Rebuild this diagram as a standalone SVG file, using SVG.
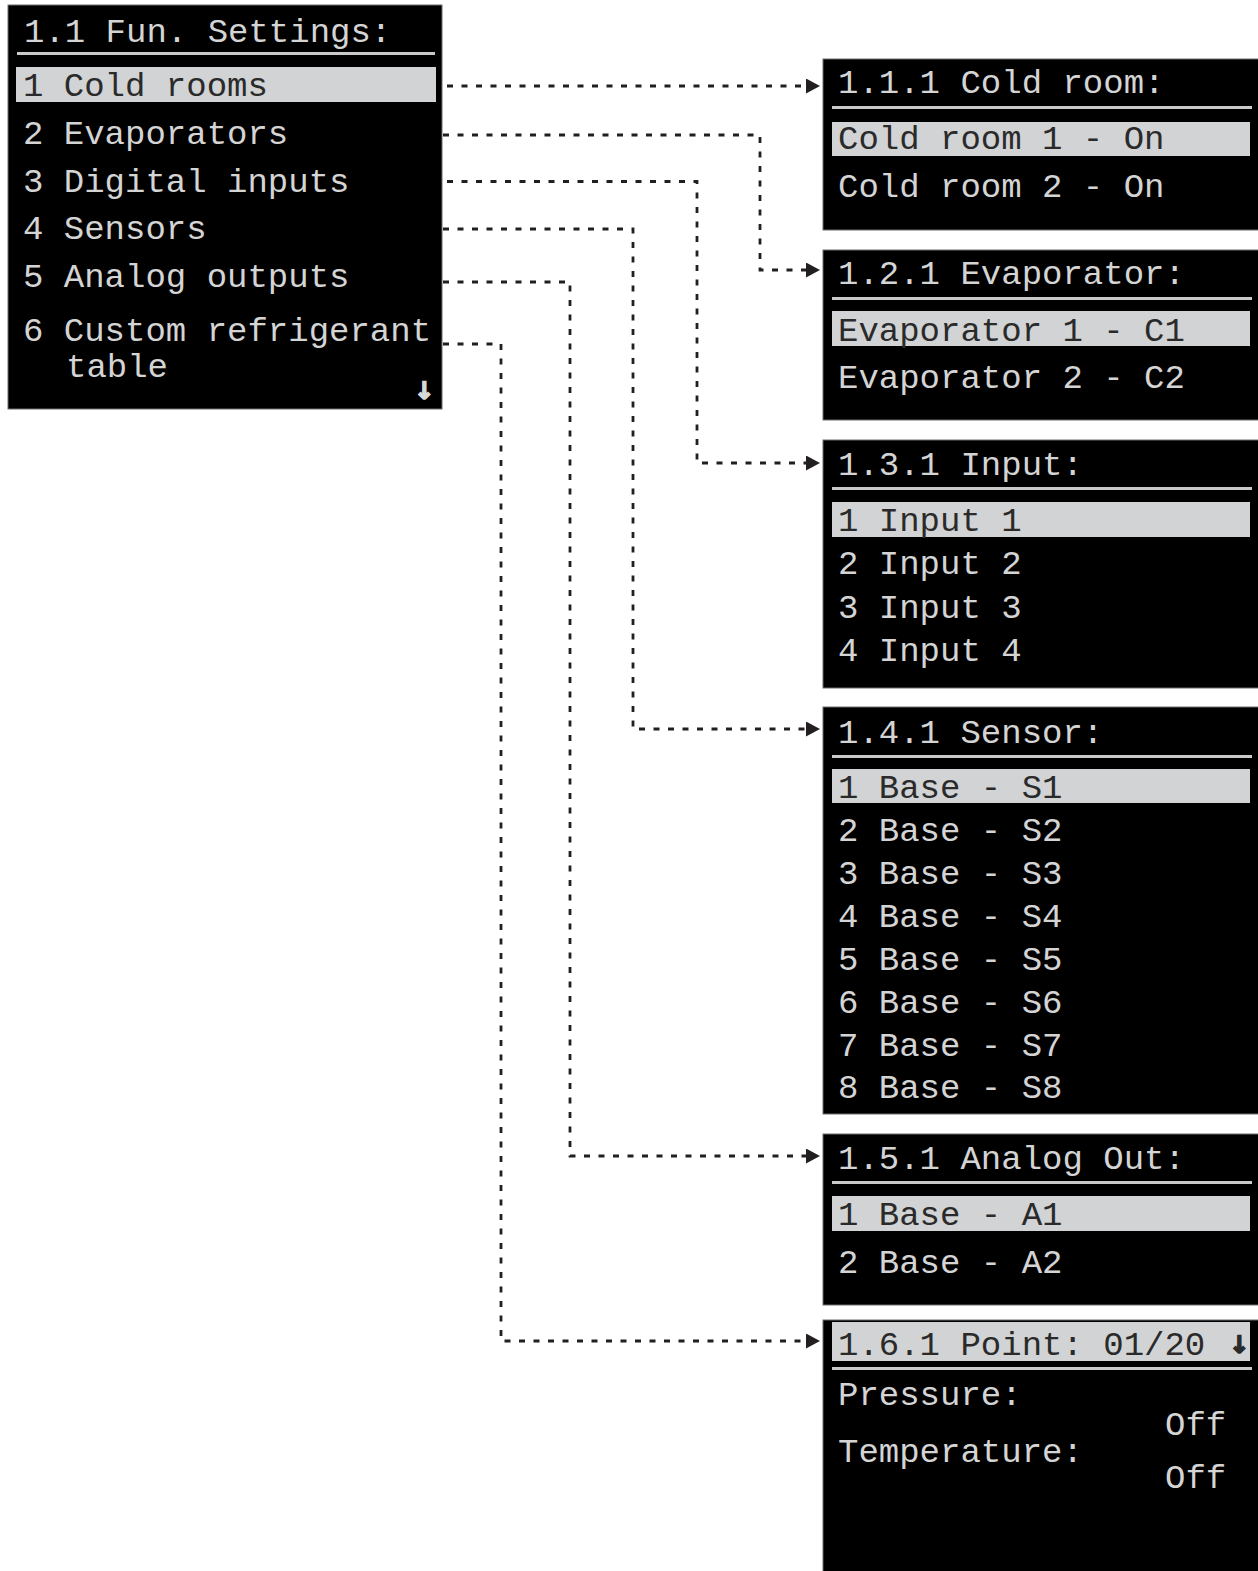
<svg xmlns="http://www.w3.org/2000/svg" width="1258" height="1571" viewBox="0 0 1258 1571">
<style>
.panel{fill:#000;stroke:#6d6d6d;stroke-width:1}
.sep{fill:#c9c9c9}
.hl{fill:#d2d3d4}
.t{font-family:"Liberation Mono","DejaVu Sans Mono",monospace;font-size:34px;fill:#d4d4d4}
.td{font-family:"Liberation Mono","DejaVu Sans Mono",monospace;font-size:34px;fill:#2a2a2a}
.ar{font-family:"DejaVu Sans","Liberation Sans",sans-serif;font-size:24px;font-weight:bold;stroke-width:1.6}
.con{fill:none;stroke:#231f20;stroke-width:2.8;stroke-dasharray:6 8.5}
</style>
<defs>
<marker id="ah" markerUnits="userSpaceOnUse" markerWidth="16" markerHeight="16" refX="0" refY="7.5" orient="auto">
<path d="M0,0 L14,7.5 L0,15 z" fill="#231f20"/>
</marker>
</defs>
<rect width="1258" height="1571" fill="#fff"/>

<g id="main">
<rect class="panel" x="8" y="5" width="434" height="404"/>
<text class="t" x="24" y="42">1.1 Fun. Settings:</text>
<rect class="sep" x="17" y="52" width="418" height="3"/>
<rect class="hl" x="16" y="67" width="420" height="35"/>
<text class="td" x="23" y="96">1 Cold rooms</text>
<text class="t" x="23" y="144">2 Evaporators</text>
<text class="t" x="23" y="192">3 Digital inputs</text>
<text class="t" x="23" y="239">4 Sensors</text>
<text class="t" x="23" y="287">5 Analog outputs</text>
<text class="t" x="23" y="341">6 Custom refrigerant</text>
<text class="t" x="66" y="377">table</text>
<text class="ar" x="414" y="399" fill="#d8d8d8" stroke="#d8d8d8">↓</text>
</g>

<g id="coldroom">
<rect class="panel" x="823" y="59" width="436" height="171"/>
<text class="t" x="838" y="93">1.1.1 Cold room:</text>
<rect class="sep" x="832" y="106" width="420" height="3"/>
<rect class="hl" x="832" y="122" width="418" height="34"/>
<text class="td" x="838" y="149">Cold room 1 - On</text>
<text class="t" x="838" y="197">Cold room 2 - On</text>
</g>

<g id="evaporator">
<rect class="panel" x="823" y="250" width="436" height="170"/>
<text class="t" x="838" y="284">1.2.1 Evaporator:</text>
<rect class="sep" x="832" y="297" width="420" height="3"/>
<rect class="hl" x="832" y="311" width="418" height="35"/>
<text class="td" x="838" y="341">Evaporator 1 - C1</text>
<text class="t" x="838" y="388">Evaporator 2 - C2</text>
</g>

<g id="input">
<rect class="panel" x="823" y="440" width="436" height="248"/>
<text class="t" x="838" y="475">1.3.1 Input:</text>
<rect class="sep" x="832" y="487" width="420" height="3"/>
<rect class="hl" x="832" y="502" width="418" height="35"/>
<text class="td" x="838" y="531">1 Input 1</text>
<text class="t" x="838" y="574">2 Input 2</text>
<text class="t" x="838" y="618">3 Input 3</text>
<text class="t" x="838" y="661">4 Input 4</text>
</g>

<g id="sensor">
<rect class="panel" x="823" y="707" width="436" height="407"/>
<text class="t" x="838" y="743">1.4.1 Sensor:</text>
<rect class="sep" x="832" y="755" width="420" height="3"/>
<rect class="hl" x="832" y="769" width="418" height="34"/>
<text class="td" x="838" y="798">1 Base - S1</text>
<text class="t" x="838" y="841">2 Base - S2</text>
<text class="t" x="838" y="884">3 Base - S3</text>
<text class="t" x="838" y="927">4 Base - S4</text>
<text class="t" x="838" y="970">5 Base - S5</text>
<text class="t" x="838" y="1013">6 Base - S6</text>
<text class="t" x="838" y="1056">7 Base - S7</text>
<text class="t" x="838" y="1098">8 Base - S8</text>
</g>

<g id="analog">
<rect class="panel" x="823" y="1134" width="436" height="171"/>
<text class="t" x="838" y="1169">1.5.1 Analog Out:</text>
<rect class="sep" x="832" y="1181" width="420" height="3"/>
<rect class="hl" x="832" y="1196" width="418" height="35"/>
<text class="td" x="838" y="1225">1 Base - A1</text>
<text class="t" x="838" y="1273">2 Base - A2</text>
</g>

<g id="point">
<rect class="panel" x="823" y="1320" width="436" height="252"/>
<rect class="hl" x="832" y="1322" width="418" height="39"/>
<text class="td" x="838" y="1355">1.6.1 Point: 01/20</text>
<text class="ar" x="1229" y="1353" fill="#2a2a2a" stroke="#2a2a2a">↓</text>
<rect class="sep" x="832" y="1367" width="420" height="3"/>
<text class="t" x="838" y="1405">Pressure:</text>
<text class="t" x="1165" y="1435">Off</text>
<text class="t" x="838" y="1462">Temperature:</text>
<text class="t" x="1165" y="1488">Off</text>
</g>

<g id="connectors">
<path class="con" d="M447,86 H806" marker-end="url(#ah)"/>
<path class="con" d="M443,135 H760 V270 H806" marker-end="url(#ah)"/>
<path class="con" d="M447,181.5 H697 V463 H806" marker-end="url(#ah)"/>
<path class="con" d="M443,229 H633 V729 H806" marker-end="url(#ah)"/>
<path class="con" d="M443,282 H570 V1156 H806" marker-end="url(#ah)"/>
<path class="con" d="M443,344 H501 V1341 H806" marker-end="url(#ah)"/>
</g>
</svg>
